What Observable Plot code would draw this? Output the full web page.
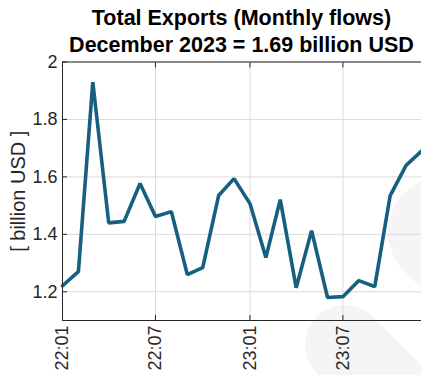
<!DOCTYPE html>
<html><head><meta charset="utf-8">
<script src="https://cdn.jsdelivr.net/npm/d3@7"></script>
<script src="https://cdn.jsdelivr.net/npm/@observablehq/plot@0.6"></script>
<style>
body{margin:0;background:#fff;font-family:"Liberation Sans",Arial,sans-serif;}
#wrap{position:relative;width:421px;height:375px;overflow:hidden;}
.wm{position:absolute;background:#f5f5f5;transform:rotate(45deg);z-index:0;}
.title{position:absolute;left:62px;width:359px;text-align:center;font-weight:bold;font-size:21.5px;line-height:24px;color:#000;white-space:nowrap;z-index:2;}
#chart{position:absolute;left:0;top:56px;z-index:1;}
</style></head>
<body>
<div id="wrap">
  <div class="wm" style="left:305px;top:305px;width:220px;height:80px;border-radius:40px;transform-origin:40px 40px;"></div>
  <div class="wm" style="left:388px;top:177px;width:220px;height:110px;border-radius:55px;transform-origin:55px 55px;"></div>
  <div class="title" style="top:6px;">Total Exports (Monthly flows)</div>
  <div class="title" style="top:33px;">December 2023 = 1.69 billion USD</div>
  <div id="chart"></div>
</div>
<script>
const months = ["22:01","22:02","22:03","22:04","22:05","22:06","22:07","22:08","22:09","22:10","22:11","22:12",
                "23:01","23:02","23:03","23:04","23:05","23:06","23:07","23:08","23:09","23:10","23:11","23:12"];
const values = [1.221,1.27,1.93,1.44,1.445,1.577,1.462,1.479,1.26,1.284,1.535,1.594,
                1.507,1.319,1.521,1.214,1.413,1.18,1.183,1.239,1.218,1.535,1.64,1.69];
const yTicks = [1.2,1.4,1.6,1.8,2];
const xTickLabels = ["22:01","22:07","23:01","23:07"];
const yLabel = "[ billion USD ]";

const parse = s => new Date(Date.UTC(2000 + +s.slice(0,2), +s.slice(3) - 1, 1));
const fmt = d => `${String(d.getUTCFullYear()).slice(2)}:${String(d.getUTCMonth()+1).padStart(2,"0")}`;
const data = months.map((m,i) => ({date: parse(m), value: values[i]}));
const xTicks = xTickLabels.map(parse);

const chart = Plot.plot({
  width: 421, height: 319,
  marginTop: 5.5, marginBottom: 55, marginLeft: 62, marginRight: 0,
  style: {background: "transparent", fontFamily: "Liberation Sans, Arial, sans-serif", fontSize: "18px", color: "#262626", overflow: "visible"},
  x: {type: "utc", domain: [parse(months[0]), parse(months[months.length-1])]},
  y: {domain: [1.1, 2]},
  marks: [
    Plot.gridY(yTicks, {stroke: "#dadada", strokeOpacity: 1}),
    Plot.gridX(xTicks, {stroke: "#dadada", strokeOpacity: 1}),
    Plot.line(data, {x: "date", y: "value", stroke: "#175f80", strokeWidth: 3.6, strokeLinejoin: "miter"}),
    Plot.frame({stroke: "#262626", strokeWidth: 1}),
    Plot.axisY(yTicks, {tickSize: -5, tickPadding: 10, tickFormat: d => String(d), label: null, fontSize: 18, stroke: "#262626", fill: "#262626"}),
    Plot.text([yLabel], {frameAnchor: "left", textAnchor: "middle", dx: -44, rotate: -90, fontSize: 20, fill: "#262626"}),
    Plot.axisX(xTicks, {tickSize: -5, tickPadding: 10, tickRotate: -90, tickFormat: fmt, label: null, fontSize: 18, stroke: "#262626", fill: "#262626"}),
    Plot.axisX(xTicks, {anchor: "top", tickSize: -5, tickFormat: () => "", label: null, stroke: "#262626"})
  ]
});
document.getElementById("chart").appendChild(chart);
</script>
</body></html>
